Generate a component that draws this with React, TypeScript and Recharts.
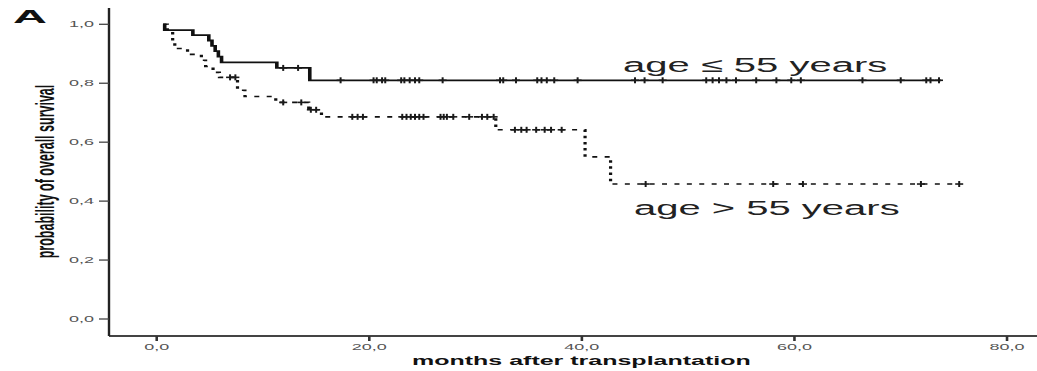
import { ComposedChart, Line, Scatter, XAxis, YAxis } from 'recharts'

// the source figure is horizontally stretched, so draw at half width and stretch x2
const STRETCH = 2
const W = 1037 / STRETCH
const H = 371
const FONT = '"Liberation Sans", Arial, sans-serif'

const xTicks = [0, 20, 40, 60, 80]
const yTicks = [0, 0.2, 0.4, 0.6, 0.8, 1.0]

// age <= 55: step times (months) and survival from that time on
const youngTimes = [0.6, 0.75, 3.4, 4.9, 5.2, 5.5, 5.8, 6.1, 11.3, 14.4, 73.8]
const youngSurv = [1.0, 0.98, 0.963, 0.945, 0.927, 0.909, 0.89, 0.871, 0.852, 0.81, 0.81]
const youngCensored = [
  11.9, 13.3, 17.3, 20.4, 20.7, 21.2, 21.5, 23.0, 23.3, 23.8, 24.3, 24.7, 26.9, 32.3, 32.6,
  33.8, 35.8, 36.2, 36.7, 37.4, 39.6, 45.0, 45.9, 47.6, 51.7, 52.3, 52.9, 53.6, 54.5, 56.4,
  58.3, 59.7, 60.6, 66.4, 70.0, 72.4, 72.8, 73.6,
]

// age > 55
const oldTimes = [0.6, 1.0, 1.5, 1.7, 2.9, 4.2, 4.6, 5.3, 5.9, 7.6, 8.3, 11.2, 14.3, 15.5, 31.9, 40.3, 42.7, 75.5]
const oldSurv = [1.0, 0.98, 0.939, 0.918, 0.898, 0.878, 0.857, 0.837, 0.82, 0.776, 0.755, 0.735, 0.71, 0.686, 0.642, 0.55, 0.458, 0.458]
const oldCensored = [
  6.9, 7.4, 11.9, 13.6, 14.5, 15.0, 18.4, 18.9, 19.4, 23.1, 23.5, 23.9, 24.3, 24.7, 25.1,
  26.7, 27.0, 27.3, 27.9, 29.4, 30.6, 31.1, 31.7, 33.7, 34.3, 34.8, 35.7, 36.5, 37.1, 38.1,
  46.0, 58.0, 60.8, 71.9, 75.5,
]

const levelAt = (times: number[], surv: number[], t: number) => {
  let s = surv[0]
  times.forEach((tt, i) => {
    if (tt <= t) s = surv[i]
  })
  return s
}

const toCurve = (times: number[], surv: number[]) => times.map((t, i) => ({ t, s: surv[i] }))
const toMarks = (times: number[], surv: number[], cens: number[]) =>
  cens.map(t => ({ t, s: levelAt(times, surv, t) }))

const youngCurve = toCurve(youngTimes, youngSurv)
const oldCurve = toCurve(oldTimes, oldSurv)
const youngMarks = toMarks(youngTimes, youngSurv, youngCensored)
const oldMarks = toMarks(oldTimes, oldSurv, oldCensored)

const comma = (v: number) => v.toFixed(1).replace('.', ',')

function Censor(props: any) {
  const { cx, cy } = props
  if (cx == null || cy == null) return null
  return (
    <g stroke="#1a1a1a">
      <line x1={cx} x2={cx} y1={cy - 3} y2={cy + 3} strokeWidth={1} />
      <line x1={cx - 2} x2={cx + 2} y1={cy} y2={cy} strokeWidth={1.6} />
    </g>
  )
}

const xDomain = [-4.49, 82.82]
const yDomain = [-0.0577, 1.0553]

export default function App() {
  return (
    <div
      style={{
        position: 'absolute',
        left: 0,
        top: 0,
        width: W,
        height: H,
        transform: `scale(${STRETCH}, 1)`,
        transformOrigin: '0 0',
        background: '#fff',
      }}
    >
      <ComposedChart width={W} height={H} margin={{ top: 8, right: 0, bottom: 0, left: 0 }}>
        <XAxis
          dataKey="t"
          type="number"
          domain={xDomain}
          allowDataOverflow
          ticks={xTicks}
          tickFormatter={comma}
          height={35}
          tickSize={5}
          tickMargin={3}
          tick={{ fontSize: 9, fill: '#555', fontFamily: FONT }}
          tickLine={{ stroke: '#333', strokeWidth: 1.3 }}
          axisLine={{ stroke: '#444', strokeWidth: 2 }}
        />
        <XAxis
          xAxisId="top"
          orientation="top"
          type="number"
          domain={xDomain}
          allowDataOverflow
          height={0}
          tick={false}
          tickLine={false}
          axisLine={{ stroke: '#888', strokeWidth: 2 }}
        />
        <YAxis
          type="number"
          domain={yDomain}
          allowDataOverflow
          ticks={yTicks}
          tickFormatter={comma}
          width={54.5}
          tickSize={5}
          tickMargin={2.5}
          tick={{ fontSize: 9, fill: '#555', fontFamily: FONT }}
          tickLine={{ stroke: '#444', strokeWidth: 1.3 }}
          axisLine={{ stroke: '#222', strokeWidth: 1.2 }}
        />
        <Line
          data={youngCurve}
          dataKey="s"
          type="stepAfter"
          stroke="#111"
          strokeWidth={1.8}
          dot={false}
          activeDot={false}
          isAnimationActive={false}
        />
        <Line
          data={oldCurve}
          dataKey="s"
          type="stepAfter"
          stroke="#111"
          strokeWidth={1.6}
          strokeDasharray="2.5 3.7"
          dot={false}
          activeDot={false}
          isAnimationActive={false}
        />
        <Scatter data={youngMarks} dataKey="s" shape={Censor} isAnimationActive={false} />
        <Scatter data={oldMarks} dataKey="s" shape={Censor} isAnimationActive={false} />
      </ComposedChart>
      <svg
        width={W}
        height={H}
        style={{ position: 'absolute', left: 0, top: 0, pointerEvents: 'none', fontFamily: FONT }}
      >
        <text x={6.5} y={23} fontSize={19} fontWeight="bold" fill="#111" textLength={17} lengthAdjust="spacingAndGlyphs">
          A
        </text>
        <text x={311.5} y={72} fontSize={20} fill="#222">age ≤ 55 years</text>
        <text x={317} y={215} fontSize={20} fill="#222">age &gt; 55 years</text>
        <text x={290.7} y={365} fontSize={12.5} fontWeight="bold" fill="#111" textAnchor="middle">
          months after transplantation
        </text>
        <text
          transform="translate(27.2,171.5) rotate(-90)"
          fontSize={12.5}
          fontWeight="bold"
          fill="#111"
          textAnchor="middle"
        >
          probability of overall survival
        </text>
      </svg>
    </div>
  )
}
